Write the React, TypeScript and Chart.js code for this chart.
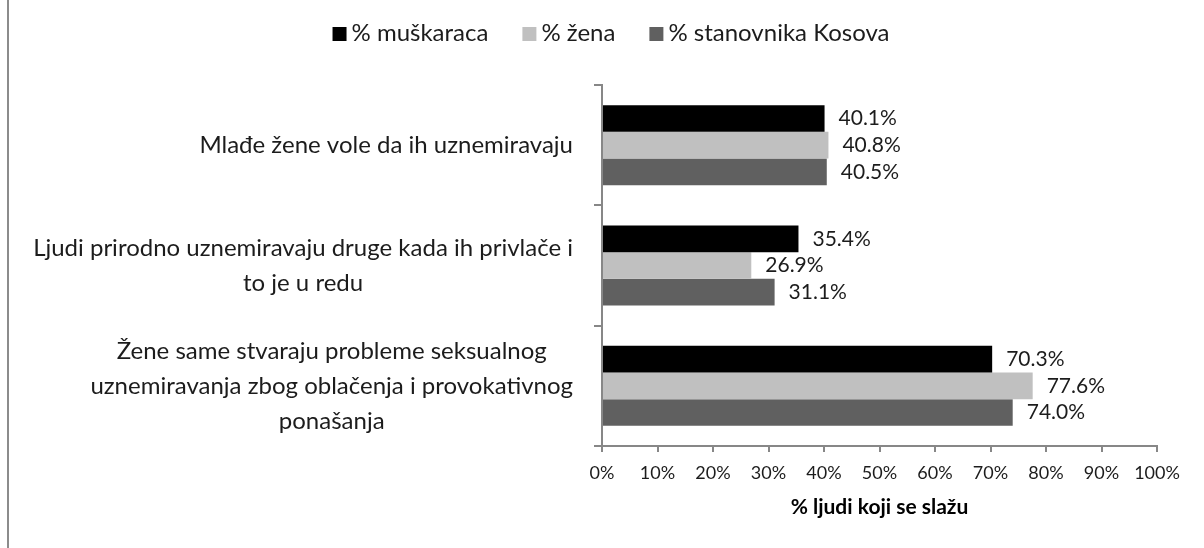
import React, { useEffect, useRef } from 'react';
import { Chart, registerables } from 'chart.js';

Chart.register(...registerables);

// ---- data ----
const categories: string[][] = [
  ['Mlađe žene vole da ih uznemiravaju'],
  ['Ljudi prirodno uznemiravaju druge kada ih privlače i', 'to je u redu'],
  ['Žene same stvaraju probleme seksualnog', 'uznemiravanja zbog oblačenja i provokativnog', 'ponašanja'],
];
const seriesNames = ['% muškaraca', '% žena', '% stanovnika Kosova'];
const menValues = [40.1, 35.4, 70.3];
const womenValues = [40.8, 26.9, 77.6];
const kosovoValues = [40.5, 31.1, 74.0];
const seriesColors = ['#000000', '#C0C0C0', '#606060'];
const xMin = 0;
const xMax = 100;
const xStep = 10;
const xTitle = '% ljudi koji se slažu';

const FONT = 'Lato';
const TEXT = '#1c1c1c';
const AXIS = '#878787';

const decorPlugin = {
  id: 'decor',
  afterDraw(chart: any) {
    const ctx: CanvasRenderingContext2D = chart.ctx;
    ctx.save();
    // left frame line
    ctx.fillStyle = '#8c8c8c';
    ctx.fillRect(7, 0, 2, chart.height);

    // legend
    ctx.font = `24px ${FONT}`;
    ctx.textBaseline = 'middle';
    ctx.textAlign = 'left';
    const box = 14;
    const gapBT = 5;
    const gapItems = 34;
    const items = chart.data.datasets.map((ds: any) => ({
      label: ds.label,
      color: ds.backgroundColor,
      w: ctx.measureText(ds.label).width,
    }));
    const total = items.reduce((s: number, it: any) => s + box + gapBT + it.w, 0) + gapItems * (items.length - 1);
    let lx = 611 - total / 2;
    const ly = 33;
    items.forEach((it: any) => {
      ctx.fillStyle = it.color;
      ctx.fillRect(lx, ly - box / 2 + 1, box, box);
      ctx.fillStyle = TEXT;
      ctx.fillText(it.label, lx + box + gapBT, ly);
      lx += box + gapBT + it.w + gapItems;
    });

    // category labels
    const yScale = chart.scales.y;
    ctx.font = `24px ${FONT}`;
    ctx.textAlign = 'center';
    ctx.fillStyle = TEXT;
    (chart.data.labels as string[][]).forEach((lines, i) => {
      const cy = yScale.getPixelForValue(i);
      const maxW = Math.max(...lines.map((l) => ctx.measureText(l).width));
      const cx = yScale.right - 29 - maxW / 2;
      lines.forEach((l, j) => {
        ctx.fillText(l, cx, cy + (j - (lines.length - 1) / 2) * 35);
      });
    });

    // value labels
    ctx.font = `21px ${FONT}`;
    ctx.textAlign = 'left';
    chart.data.datasets.forEach((ds: any, di: number) => {
      const meta = chart.getDatasetMeta(di);
      meta.data.forEach((el: any, i: number) => {
        ctx.fillText(Number(ds.data[i]).toFixed(1) + '%', el.x + 14, el.y);
      });
    });
    ctx.restore();
  },
};

export default function App() {
  const ref = useRef<HTMLCanvasElement | null>(null);
  useEffect(() => {
    if (!ref.current) return;
    const chart = new Chart(ref.current, {
      type: 'bar',
      data: {
        labels: categories,
        datasets: [
          { label: seriesNames[0], data: menValues, backgroundColor: seriesColors[0] },
          { label: seriesNames[1], data: womenValues, backgroundColor: seriesColors[1] },
          { label: seriesNames[2], data: kosovoValues, backgroundColor: seriesColors[2] },
        ],
      },
      options: {
        indexAxis: 'y',
        responsive: false,
        animation: false,
        devicePixelRatio: 1,
        layout: { padding: { top: 85, right: 47, left: 0, bottom: 0 } },
        datasets: { bar: { categoryPercentage: 0.665, barPercentage: 1 } },
        plugins: {
          legend: { display: false },
          tooltip: { enabled: false },
        },
        scales: {
          x: {
            min: xMin,
            max: xMax,
            ticks: {
              stepSize: xStep,
              callback: (v: any) => v + '%',
              font: { family: FONT, size: 18 },
              color: TEXT,
              padding: 10,
              maxRotation: 0,
            },
            grid: { drawOnChartArea: false, drawTicks: true, tickLength: 6, color: AXIS, lineWidth: 2 },
            border: { color: AXIS, width: 2 },
            title: {
              display: true,
              text: xTitle,
              font: { family: FONT, size: 21, weight: 'bold' },
              color: '#000',
              padding: { top: 0, bottom: 28 },
            },
            afterFit: (s: any) => {
              s.height = 102;
            },
          },
          y: {
            type: 'category',
            ticks: { display: false },
            grid: { drawOnChartArea: false, drawTicks: true, tickLength: 8, color: AXIS, lineWidth: 2, offset: true },
            border: { color: AXIS, width: 2 },
            afterFit: (s: any) => {
              s.width = 602;
            },
          },
        },
      } as any,
      plugins: [decorPlugin],
    });
    return () => chart.destroy();
  }, []);
  return (
    <div style={{ position: 'absolute', left: 0, top: 0, width: 1204, height: 548, background: '#fff' }}>
      <canvas ref={ref} width={1204} height={548} style={{ display: 'block' }} />
    </div>
  );
}
